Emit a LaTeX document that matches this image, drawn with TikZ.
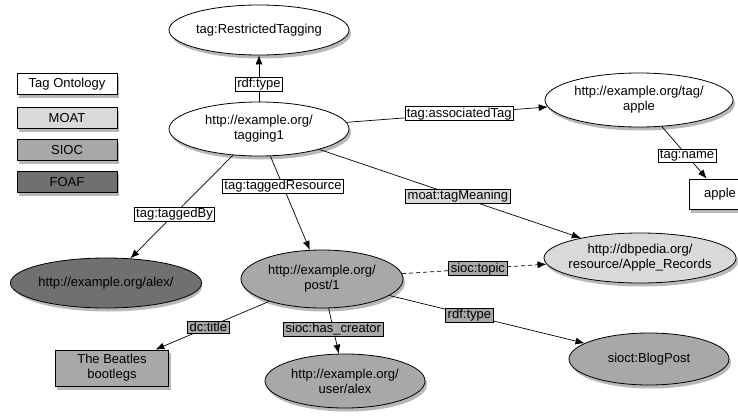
\documentclass[tikz,border=0pt]{standalone}
\usepackage{fontspec}
\setmainfont{Liberation Sans}
\usetikzlibrary{shapes.geometric, arrows.meta, backgrounds}

\definecolor{moatgray}{gray}{0.85}
\definecolor{siocgray}{gray}{0.66}
\definecolor{foafgray}{gray}{0.44}
\definecolor{shadegray}{gray}{0.72}

\tikzset{
  res/.style={ellipse, draw, line width=0.8pt, inner sep=0pt, align=center},
  lit/.style={rectangle, draw, line width=0.8pt, inner sep=0pt, align=center},
  lbl/.style={rectangle, draw, solid, line width=0.7pt, inner xsep=2pt, inner ysep=1pt, fill=white},
  legendbox/.style={lit, minimum width=100pt, minimum height=21pt}
}

\begin{document}
\begin{tikzpicture}[x=1pt, y=-1pt, font=\fontsize{13}{15}\selectfont,
    >={Latex[length=9pt, width=7pt]}, line width=0.7pt]
    \path[use as bounding box] (0,0) rectangle (738,415);
    \clip (0,0) rectangle (738,415);

    % Legende
    \node[legendbox, fill=white]    (lgtag)  at (67,84)  {Tag Ontology};
    \node[legendbox, fill=moatgray] (lgmoat) at (67,118) {MOAT};
    \node[legendbox, fill=siocgray] (lgsioc) at (67,150) {SIOC};
    \node[legendbox, fill=foafgray] (lgfoaf) at (67,182) {FOAF};

    % Ressourcen
    \node[res, fill=white, minimum width=180pt, minimum height=50pt] (rtag) at (259,30) {tag:RestrictedTagging};
    \node[res, fill=white, minimum width=180pt, minimum height=54pt] (tagging) at (259,129) {http://example.org/\\tagging1};
    \node[res, fill=white, minimum width=188pt, minimum height=54pt] (tagapple) at (639,100) {http://example.org/tag/\\apple};
    \node[lit, fill=white, minimum width=62pt, minimum height=30pt] (apple) at (720,194) {apple};
    \node[res, fill=moatgray, inner xsep=-4pt, minimum width=192pt, minimum height=50pt] (dbpedia) at (640,258) {http://dbpedia.org/\\resource/Apple\_Records};
    \node[res, fill=foafgray, minimum width=188pt, minimum height=50pt] (alex) at (106,283) {http://example.org/alex/};
    \node[res, fill=siocgray, minimum width=162pt, minimum height=58pt] (post) at (322,279) {http://example.org/\\post/1};
    \node[lit, fill=siocgray, minimum width=113pt, minimum height=36pt] (beatles) at (112,368) {The Beatles\\bootlegs};
    \node[res, fill=siocgray, minimum width=160pt, minimum height=54pt] (useralex) at (345,381) {http://example.org/\\user/alex};
    \node[res, fill=siocgray, minimum width=160pt, minimum height=52pt] (blogpost) at (649,359) {sioct:BlogPost};

    % Schatten
    \begin{scope}[on background layer]
        \foreach \nd/\rx/\ry in {rtag/90/25, tagging/90/27, tagapple/94/27, dbpedia/96/25,
                                 alex/94/25, post/81/29, useralex/80/27, blogpost/80/26}
            \fill[shadegray] ([shift={(2pt,-3.5pt)}]\nd.center) ellipse [x radius=\rx pt, y radius=\ry pt];
        \foreach \nd in {lgtag, lgmoat, lgsioc, lgfoaf, apple, beatles}
            \fill[shadegray] ([shift={(2pt,-3.5pt)}]\nd.south west) rectangle ([shift={(2pt,-3.5pt)}]\nd.north east);
    \end{scope}

    % Kanten vom Tagging
    \draw[->] (tagging) -- node[lbl, pos=0.38] {rdf:type} (rtag);
    \draw[->] (tagging) -- node[lbl, pos=0.56] {tag:associatedTag} (tagapple);
    \draw[->] (tagapple) -- node[lbl, pos=0.56] {tag:name} (apple);
    \draw[->] (tagging) -- node[lbl, fill=moatgray, pos=0.53] {moat:tagMeaning} (dbpedia);
    \draw[->] (tagging) -- node[lbl, pos=0.57] {tag:taggedBy} (alex);
    \draw[->] (tagging) -- node[lbl, pos=0.32] {tag:taggedResource} (post);

    % Kanten vom Post
    \draw[->, dash pattern=on 4pt off 3pt] (post) -- node[lbl, fill=siocgray, pos=0.525] {sioc:topic} (dbpedia);
    \draw[->] (post) -- node[lbl, fill=siocgray, pos=0.535] {dc:title} (beatles);
    \draw[->] (post) -- node[lbl, fill=siocgray, pos=0.46] {sioc:has\_creator} (useralex);
    \draw[->] (post) -- node[lbl, fill=siocgray, pos=0.41] {rdf:type} (blogpost);
\end{tikzpicture}
\end{document}
